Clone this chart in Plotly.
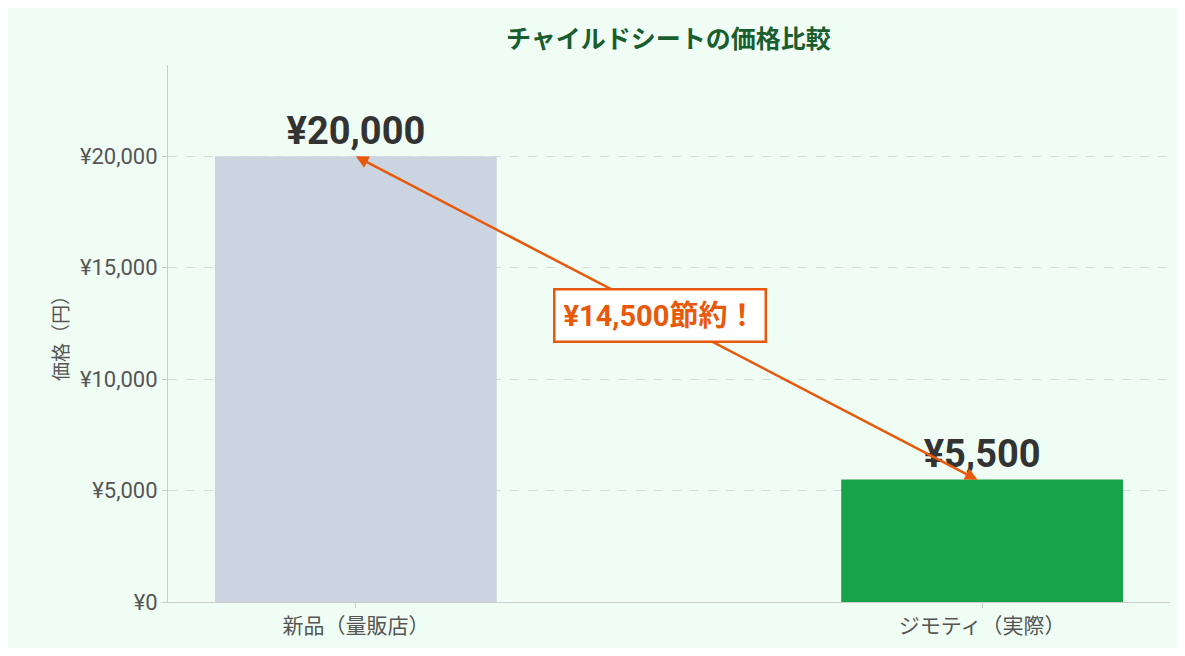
import plotly.graph_objects as go

categories = ["新品（量販店）", "ジモティ（実際）"]
prices = [20000, 5500]
labels = ["¥20,000", "¥5,500"]
saving_text = "¥14,500節約！"
tick_vals = [0, 5000, 10000, 15000, 20000]
tick_text = ["¥0", "¥5,000", "¥10,000", "¥15,000", "¥20,000"]

font = "Roboto, Noto Sans CJK JP"
bg = "#f0fdf4"
orange = "#e8590c"

fig = go.Figure()
fig.add_bar(x=[0, 1], y=prices, width=0.45,
            marker=dict(color=["#cbd5e1", "#16a34a"], line=dict(width=0)),
            text=["<b>" + t + "</b>" for t in labels], textposition="outside",
            textfont=dict(size=38, color="#333333", family=font), cliponaxis=False)

fig.add_annotation(x=0, y=prices[0], ax=0.995, ay=prices[1] - 50, axref="x", ayref="y",
                   xref="x", yref="y", text="", showarrow=True,
                   arrowhead=2, startarrowhead=2, arrowside="end+start",
                   arrowwidth=2.5, arrowcolor=orange, arrowsize=1, startarrowsize=1)
fig.add_annotation(x=0.485, y=(prices[0] + prices[1]) / 2 + 100, xref="x", yref="y",
                   text="<b>" + saving_text + "</b>", showarrow=False,
                   font=dict(size=29, color=orange, family=font),
                   bgcolor="white", bordercolor=orange, borderwidth=2.5, borderpad=8)

fig.update_layout(
    width=1169, height=640, paper_bgcolor=bg, plot_bgcolor=bg,
    margin=dict(l=160, r=7, t=57, b=46),
    title=dict(text="<b>チャイルドシートの価格比較</b>", x=0.565, y=0.965, xanchor="center",
               font=dict(size=25, color="#1a5e30", family=font)),
    font=dict(family=font, color="#555555"),
    showlegend=False,
    xaxis=dict(range=[-0.3, 1.3], tickvals=[0, 1], ticktext=categories,
               tickfont=dict(size=21), showgrid=False, showline=True,
               linecolor="#cccccc", ticks="outside", tickcolor="#cccccc", zeroline=False),
    yaxis=dict(range=[0, 24100], tickvals=tick_vals, ticktext=tick_text,
               tickfont=dict(size=22), showgrid=True, gridcolor="#d6dcd8", griddash="dash",
               showline=True, linecolor="#cccccc", ticks="outside", tickcolor="#cccccc",
               zeroline=False, title=dict(text="価格（円）", font=dict(size=19), standoff=6)),
)
fig.write_html("out.html")
